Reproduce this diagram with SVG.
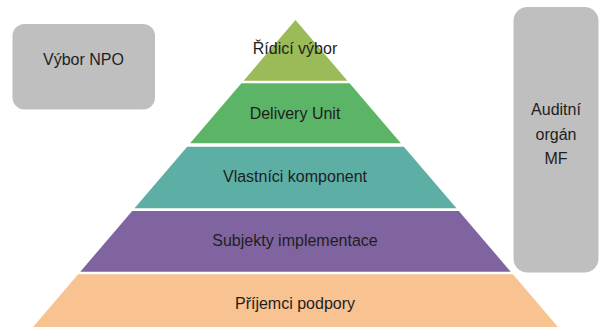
<svg xmlns="http://www.w3.org/2000/svg" width="599" height="327" viewBox="0 0 599 327">
  <style>
    text { font-family: "Liberation Sans", Arial, sans-serif; font-size: 16px; fill: #1e1e1e; text-anchor: middle; }
    .box { fill: #bfbfbf; }
  </style>
  <rect width="599" height="327" fill="#ffffff"/>
  <g id="vybor-npo">
    <rect class="box" x="12.5" y="24" width="142.5" height="85.5" rx="12" ry="12"/>
    <text x="83.5" y="65">Výbor NPO</text>
  </g>
  <g id="auditni-organ">
    <rect class="box" x="513.5" y="7" width="85" height="265.5" rx="14" ry="14"/>
    <text x="556" y="115">Auditní</text>
    <text x="556" y="139.5">orgán</text>
    <text x="556" y="164">MF</text>
  </g>
  <g id="ridici-vybor">
    <polygon points="295.5,20 347.4,80.7 243.6,80.7" fill="#9bbb59"/>
    <text x="295" y="53.5">Řídicí výbor</text>
  </g>
  <g id="delivery-unit">
    <polygon points="241.4,83.3 349.6,83.3 400.9,143.3 190.1,143.3" fill="#5cb567"/>
    <text x="295" y="118.5">Delivery Unit</text>
  </g>
  <g id="vlastnici-komponent">
    <polygon points="187.2,146.7 403.8,146.7 456.5,208.3 134.5,208.3" fill="#5daea5"/>
    <text x="295" y="182">Vlastníci komponent</text>
  </g>
  <g id="subjekty-implementace">
    <polygon points="132.2,211 458.8,211 510.7,271.7 80.3,271.7" fill="#8064a0"/>
    <text x="295" y="245.5">Subjekty implementace</text>
  </g>
  <g id="prijemci-podpory">
    <polygon points="78.1,274.3 512.9,274.3 560.5,330 30.5,330" fill="#f9c291"/>
    <text x="295" y="308.5">Příjemci podpory</text>
  </g>
  <g id="connectors"/>
</svg>
